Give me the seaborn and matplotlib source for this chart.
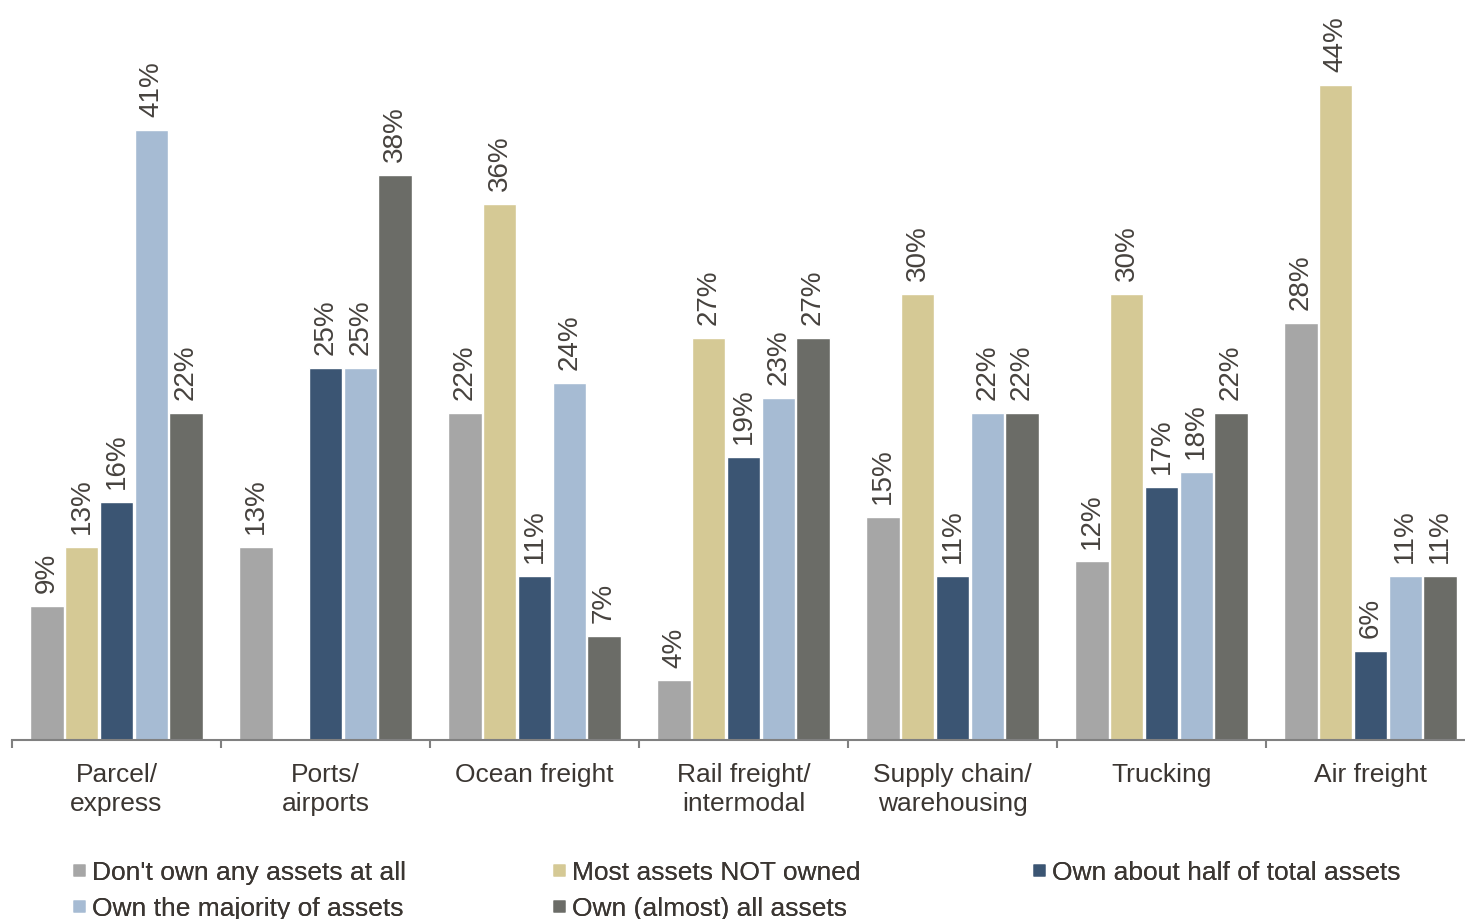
import numpy as np
import pandas as pd
import matplotlib
matplotlib.use("Agg")
import matplotlib.pyplot as plt
from matplotlib.lines import Line2D
import seaborn as sns

# Logistics segments and how much of their assets companies own (% of respondents)
segments = ["Parcel/\nexpress", "Ports/\nairports", "Ocean freight",
            "Rail freight/\nintermodal", "Supply chain/\nwarehousing",
            "Trucking", "Air freight"]
ownership = ["Don't own any assets at all", "Most assets NOT owned",
             "Own about half of total assets", "Own the majority of assets",
             "Own (almost) all assets"]
dont_own = [9, 13, 22, 4, 15, 12, 28]
most_not_owned = [13, 0, 36, 27, 30, 30, 44]
about_half = [16, 25, 11, 19, 11, 17, 6]
majority = [41, 25, 24, 23, 22, 18, 11]
almost_all = [22, 38, 7, 27, 22, 22, 11]
palette = ["#a6a6a6", "#d5c995", "#3b5573", "#a6bbd3", "#6b6c67"]

series = [dont_own, most_not_owned, about_half, majority, almost_all]
df = pd.DataFrame({
    "segment": np.repeat([segments], len(ownership), axis=0).ravel(),
    "ownership": np.repeat(ownership, len(segments)),
    "share": np.concatenate(series),
})

sns.set_theme(style="white")
plt.rcParams["font.family"] = ["Liberation Sans", "DejaVu Sans"]
text_color = "#3b3632"
value_color = "#46423e"
axis_color = "#808080"

W, H = 1465, 920
fig = plt.figure(figsize=(W / 100, H / 100), dpi=100)
ax = fig.add_axes([12 / W, 1 - 741 / H, 1463 / W, 741 / H])

sns.barplot(data=df, x="segment", y="share", hue="ownership",
            order=segments, hue_order=ownership, palette=palette,
            saturation=1, width=0.83, gap=0.04, errorbar=None,
            legend=False, ax=ax)

for cont in ax.containers:
    vals = cont.datavalues
    labels = [f"{v:.0f}%" if v > 0 else "" for v in vals]
    ax.bar_label(cont, labels=labels, rotation=90, padding=10,
                 fontsize=20, color=value_color)

ax.set_xlim(-0.5, len(segments) - 0.5)
ax.set_ylim(0, 49.8)
ax.set_xlabel("")
ax.set_ylabel("")
ax.set_yticks([])
for side in ["top", "right", "left"]:
    ax.spines[side].set_visible(False)
ax.spines["bottom"].set_color(axis_color)
ax.spines["bottom"].set_linewidth(1.5)

ax.set_xticks(range(len(segments)))
ax.set_xticklabels(segments, fontsize=19, color=text_color, linespacing=1.27)
ax.tick_params(axis="x", which="major", length=0, pad=16)
ax.set_xticks(np.arange(-0.5, len(segments), 1.0), minor=True)
ax.tick_params(axis="x", which="minor", length=6, width=1.5,
               color=axis_color, bottom=True)

# Legend laid out in three fixed columns
handles = [Line2D([], [], marker="s", linestyle="none", markersize=8.5,
                  markerfacecolor=c, markeredgecolor="none") for c in palette]
columns = [[0, 3], [1, 4], [2]]
col_x = [72, 552, 1032]
for xs, idx in zip(col_x, columns):
    leg = fig.legend([handles[i] for i in idx], [ownership[i] for i in idx],
                     loc="upper left", bbox_to_anchor=(xs / W, 1 - 861 / H),
                     frameon=False, fontsize=19, handlelength=0.5,
                     handletextpad=0.25, borderpad=0, borderaxespad=0,
                     labelspacing=0.45, labelcolor=text_color)
    fig.add_artist(leg)

fig.savefig("out.png", dpi=100)
